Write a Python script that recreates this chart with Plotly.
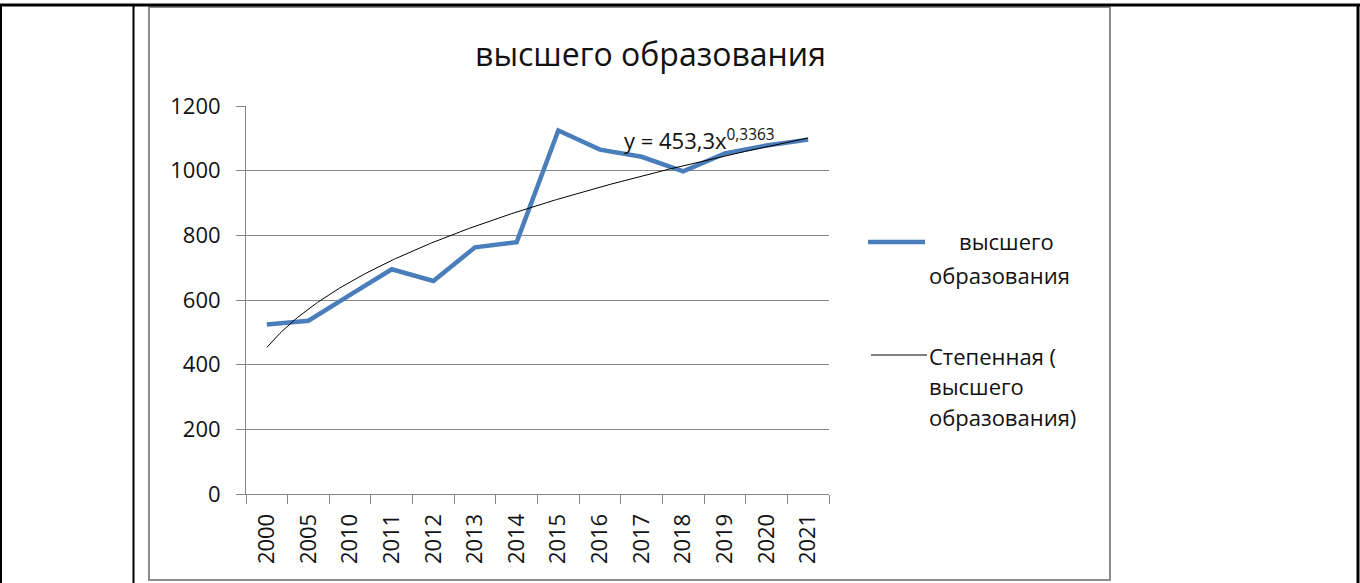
import numpy as np
import plotly.graph_objects as go

# ---- data ----
years = ["2000", "2005", "2010", "2011", "2012", "2013", "2014",
         "2015", "2016", "2017", "2018", "2019", "2020", "2021"]
values = [524, 536, 616, 695, 659, 763, 779,
          1124, 1065, 1043, 998, 1053, 1078, 1096]
series_name = "высшего образования"
trend_name = "Степенная (высшего образования)"
TREND_A = 453.3      # coefficients shown in the chart's trendline equation
TREND_B = 0.3363
equation_text = "y = 453,3x<sup>0,3363</sup>"
y_ticks = [0, 200, 400, 600, 800, 1000, 1200]

# ---- layout geometry (pixels) ----
FW, FH = 1360, 583
L, R, T, B = 246, 829, 106, 494
PW, PH = R - L, B - T


def px(x):
    return (x - L) / PW


def py(y):
    return (B - y) / PH


FONT = "Open Sans"
TXT = "#111111"
GRID = "#868686"

trend_x = np.linspace(1, len(years), 300)
trend_y = TREND_A * trend_x ** TREND_B

fig = go.Figure()
fig.add_trace(go.Scatter(x=years, y=values, mode="lines", name=series_name,
                         line=dict(color="#4A7EBB", width=4.5), showlegend=False,
                         xaxis="x", yaxis="y"))
fig.add_trace(go.Scatter(x=trend_x, y=trend_y, mode="lines", name=trend_name,
                         line=dict(color="#000000", width=1), showlegend=False,
                         xaxis="x2", yaxis="y"))

fig.update_layout(
    width=FW, height=FH,
    margin=dict(l=L, r=FW - R, t=T, b=FH - B, pad=0),
    paper_bgcolor="white", plot_bgcolor="white",
    font=dict(family=FONT, size=22, color=TXT),
    xaxis=dict(type="category", tickson="boundaries", tickangle=-90,
               ticks="outside", ticklen=9, tickcolor=GRID, tickwidth=1,
               showline=True, linecolor=GRID, linewidth=1, showgrid=False,
               zeroline=False, range=[-0.5, len(years) - 0.5],
               tickfont=dict(family=FONT, size=22, color=TXT),
               ticklabelstandoff=10),
    xaxis2=dict(overlaying="x", range=[0.5, len(years) + 0.5], visible=False),
    yaxis=dict(range=[0, 1200], tickvals=y_ticks, ticks="outside", ticklen=9,
               tickcolor=GRID, showline=True, linecolor=GRID, linewidth=1,
               showgrid=True, gridcolor=GRID, gridwidth=1, zeroline=False,
               tickfont=dict(family=FONT, size=22, color=TXT),
               ticklabelstandoff=11),
)

ann = []
# title
ann.append(dict(text="высшего образования", x=px(650), y=py(53), xref="paper", yref="paper",
                xanchor="center", yanchor="middle", showarrow=False,
                font=dict(family=FONT, size=32, color=TXT)))
# trendline equation
ann.append(dict(text=equation_text, x=px(622), y=py(139), xref="paper", yref="paper",
                xanchor="left", yanchor="middle", showarrow=False,
                font=dict(family=FONT, size=22, color=TXT)))
# legend texts
leg = [("высшего", 1006, 241, "center"),
       ("образования", 927, 275, "left"),
       ("Степенная (", 927, 356, "left"),
       ("высшего", 927, 386, "left"),
       ("образования)", 927, 417, "left")]
for t, x, y, a in leg:
    ann.append(dict(text=t, x=px(x), y=py(y), xref="paper", yref="paper",
                    xanchor=a, yanchor="middle", showarrow=False,
                    font=dict(family=FONT, size=22, color=TXT)))
fig.update_layout(annotations=ann)

shapes = []
# legend samples
shapes.append(dict(type="line", xref="paper", yref="paper", x0=px(868), x1=px(925),
                   y0=py(242), y1=py(242), line=dict(color="#4A7EBB", width=4.5)))
shapes.append(dict(type="line", xref="paper", yref="paper", x0=px(871), x1=px(927),
                   y0=py(355), y1=py(355), line=dict(color="#000000", width=1)))
# chart frame
shapes.append(dict(type="rect", xref="paper", yref="paper", x0=px(149), x1=px(1110),
                   y0=py(580), y1=py(7), line=dict(color="#8c8c8c", width=2)))
# table borders
shapes.append(dict(type="line", xref="paper", yref="paper", x0=px(0), x1=px(1360),
                   y0=py(5), y1=py(5), line=dict(color="#000000", width=3)))
for xx, w in [(1, 2), (133.5, 2), (1358, 3)]:
    shapes.append(dict(type="line", xref="paper", yref="paper", x0=px(xx), x1=px(xx),
                       y0=py(5), y1=py(583), line=dict(color="#000000", width=w)))
fig.update_layout(shapes=shapes)

fig.write_html("out.html",
               config={"displayModeBar": False},
               post_script="document.body.style.margin='0';document.body.style.overflow='hidden';")
